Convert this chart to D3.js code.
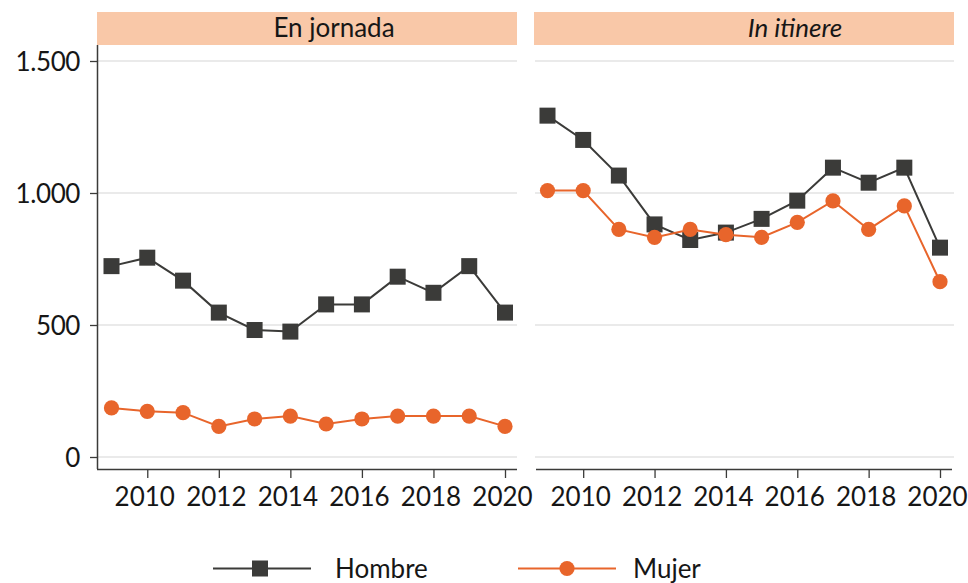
<!DOCTYPE html>
<html><head><meta charset="utf-8">
<script src="https://cdn.jsdelivr.net/npm/d3@7"></script>
<style>body{margin:0;background:#fff}svg{display:block}text{font-family:Lato,"Open Sans",sans-serif}</style>
</head><body><svg id="c" width="968" height="583"></svg>
<script>
const years = [2009,2010,2011,2012,2013,2014,2015,2016,2017,2018,2019,2020];
const panels = ["En jornada","In itinere"];
const series = ["Hombre","Mujer"];
const jornadaHombre = [723,755,668,547,481,475,578,578,683,622,723,547];
const jornadaMujer  = [186,173,168,116,144,155,125,144,155,155,155,116];
const itinereHombre = [1293,1201,1066,881,822,850,902,971,1096,1039,1096,793];
const itinereMujer  = [1009,1009,862,832,862,842,832,889,970,862,951,664];
const yTicks = [0,500,1000,1500];
const xTicks = [2010,2012,2014,2016,2018,2020];

const dark = "#3b3b39", orange = "#e8652b", strip = "#f9c8a8", grid = "#e3e3e3", ink = "#161616";
const svg = d3.select("#c");
const y = d3.scaleLinear().domain([0,1500]).range([457,61]);
const fmt = v => d3.format(",")(v).replace(/,/g,".");

const layout = [
  {name:panels[0], x0:97, x1:517, r:[111.5,505], data:[jornadaHombre,jornadaMujer], italic:false, tx:334},
  {name:panels[1], x0:534, x1:954, r:[547.5,940], data:[itinereHombre,itinereMujer], italic:true, tx:795}
];

layout.forEach((p,i) => {
  const x = d3.scaleLinear().domain([2009,2020]).range(p.r);
  const g = svg.append("g");
  g.append("rect").attr("x",p.x0).attr("y",12).attr("width",p.x1-p.x0).attr("height",33).attr("fill",strip);
  g.append("text").attr("x",p.tx).attr("y",37).attr("text-anchor","middle")
    .attr("font-size",26).attr("font-style",p.italic?"italic":"normal").attr("fill",ink).text(p.name);
  g.selectAll(".gl").data(yTicks).join("line")
    .attr("x1",p.x0+1).attr("x2",p.x1).attr("y1",d=>y(d)).attr("y2",d=>y(d))
    .attr("stroke",grid).attr("stroke-width",1.5);
  const xa = g.append("g").attr("transform","translate(0,469)")
    .call(d3.axisBottom(x).tickValues(xTicks).tickFormat(d3.format("d")).tickSize(9).tickSizeOuter(0));
  xa.select(".domain").attr("d",`M${i===0?p.x0:p.x0+2},0.5H${i===0?p.x1:p.x1-2}`).attr("stroke",dark).attr("stroke-width",1.5);
  xa.selectAll(".tick line").attr("stroke",dark).attr("stroke-width",1.3);
  xa.selectAll(".tick text").attr("font-size",26).attr("font-family","Lato,sans-serif").attr("fill",ink)
    .attr("x",-3).attr("y",37).attr("dy",0);
  if(i===0){
    const ya = g.append("g").attr("transform",`translate(${p.x0},0)`)
      .call(d3.axisLeft(y).tickValues(yTicks).tickFormat(fmt).tickSize(7).tickSizeOuter(0));
    ya.select(".domain").attr("d","M0.5,45V469").attr("stroke",dark).attr("stroke-width",1.5);
    ya.selectAll(".tick line").attr("stroke",dark).attr("stroke-width",1.3);
    ya.selectAll(".tick text").attr("font-size",26).attr("font-family","Lato,sans-serif").attr("fill",ink)
      .attr("letter-spacing","-0.4").attr("x",-17).attr("dy","0.36em");
  }
  p.data.forEach((vals,si) => {
    const col = si===0?dark:orange;
    const pts = years.map((yr,k)=>({yr,v:vals[k]}));
    g.append("path").datum(pts).attr("fill","none").attr("stroke",col).attr("stroke-width",2)
      .attr("d",d3.line().x(d=>x(d.yr)).y(d=>y(d.v)));
    if(si===0){
      g.selectAll(".sq"+i).data(pts).join("rect").attr("x",d=>x(d.yr)-8).attr("y",d=>y(d.v)-8)
        .attr("width",16).attr("height",16).attr("fill",col);
    } else {
      g.selectAll(".ci"+i).data(pts).join("circle").attr("cx",d=>x(d.yr)).attr("cy",d=>y(d.v))
        .attr("r",7.6).attr("fill",col);
    }
  });
});

const lg = svg.append("g");
const leg = [{name:series[0],col:dark,x:213,tx:335},{name:series[1],col:orange,x:518,tx:633}];
leg.forEach((l,k)=>{
  lg.append("line").attr("x1",l.x).attr("x2",l.x+98).attr("y1",568.5).attr("y2",568.5).attr("stroke",l.col).attr("stroke-width",2);
  if(k===0) lg.append("rect").attr("x",l.x+47-8).attr("y",560.5).attr("width",16).attr("height",16).attr("fill",l.col);
  else lg.append("circle").attr("cx",l.x+49).attr("cy",568.5).attr("r",7.6).attr("fill",l.col);
  lg.append("text").attr("x",l.tx).attr("y",578).attr("font-size",26).attr("fill",ink).text(l.name);
});
</script></body></html>
